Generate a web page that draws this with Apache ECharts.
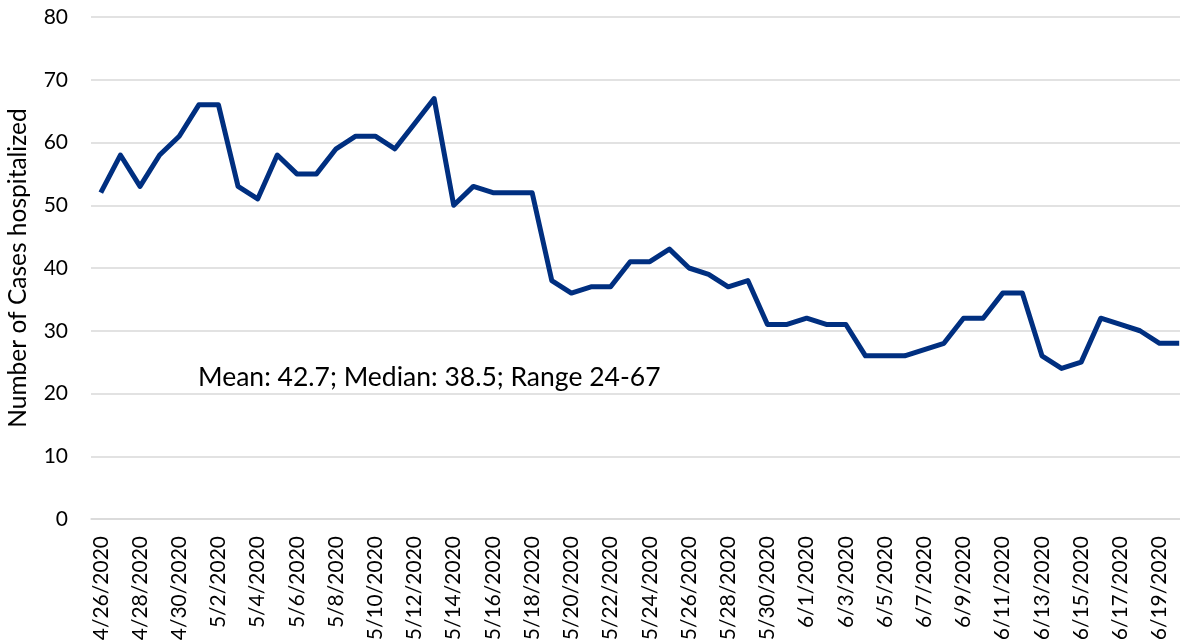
<!DOCTYPE html>
<html>
<head>
<meta charset="utf-8">
<script src="https://cdn.jsdelivr.net/npm/echarts@6/dist/echarts.min.js"></script>
<style>
  html, body { margin: 0; padding: 0; background: #fff; }
  #main { width: 1180px; height: 640px; }
</style>
</head>
<body>
<div id="main"></div>
<script>
// dates shown on the x axis
var dates = [
  '4/26/2020','4/27/2020','4/28/2020','4/29/2020','4/30/2020',
  '5/1/2020','5/2/2020','5/3/2020','5/4/2020','5/5/2020','5/6/2020','5/7/2020','5/8/2020',
  '5/9/2020','5/10/2020','5/11/2020','5/12/2020','5/13/2020','5/14/2020','5/15/2020','5/16/2020',
  '5/17/2020','5/18/2020','5/19/2020','5/20/2020','5/21/2020','5/22/2020','5/23/2020','5/24/2020',
  '5/25/2020','5/26/2020','5/27/2020','5/28/2020','5/29/2020','5/30/2020','5/31/2020',
  '6/1/2020','6/2/2020','6/3/2020','6/4/2020','6/5/2020','6/6/2020','6/7/2020','6/8/2020',
  '6/9/2020','6/10/2020','6/11/2020','6/12/2020','6/13/2020','6/14/2020','6/15/2020','6/16/2020',
  '6/17/2020','6/18/2020','6/19/2020','6/20/2020'
];

// cases hospitalized per day
var hospitalized = [
  52, 58, 53, 58, 61,
  66, 66, 53, 51, 58, 55, 55, 59,
  61, 61, 59, 63, 67, 50, 53, 52,
  52, 52, 38, 36, 37, 37, 41, 41,
  43, 40, 39, 37, 38, 31, 31,
  32, 31, 31, 26, 26, 26, 27, 28,
  32, 32, 36, 36, 26, 24, 25, 32,
  31, 30, 28, 28
];

var yTitle = 'Number of Cases hospitalized';
var note = 'Mean: 42.7; Median: 38.5; Range 24-67';

var font = 'Lato, "Open Sans", sans-serif';
var myChart = echarts.init(document.getElementById('main'));

var option = {
  animation: false,
  grid: { left: 91, top: 17, bottom: 121, width: 1098, outerBoundsMode: 'none', containLabel: false },
  xAxis: {
    type: 'category',
    data: dates,
    boundaryGap: true,
    axisLine: { lineStyle: { color: '#d9d9d9', width: 1.5 } },
    axisTick: { interval: 1, length: 6, lineStyle: { color: '#d9d9d9', width: 1.5 } },
    axisLabel: {
      interval: 1,
      rotate: 90,
      margin: 17,
      color: '#000',
      fontSize: 21,
      fontFamily: font
    }
  },
  yAxis: {
    type: 'value',
    min: 0,
    max: 80,
    interval: 10,
    name: yTitle,
    nameLocation: 'middle',
    nameGap: 60,
    nameTextStyle: { color: '#000', fontSize: 24.5, fontFamily: font },
    axisLine: { show: false },
    axisTick: { show: false },
    axisLabel: { color: '#000', fontSize: 21, fontFamily: font, margin: 23 },
    splitLine: { lineStyle: { color: '#d9d9d9', width: 1.5 } }
  },
  graphic: [{
    type: 'text',
    left: 198,
    top: 364,
    style: { text: note, fill: '#000', fontSize: 26.5, fontFamily: font }
  }],
  series: [{
    type: 'line',
    data: hospitalized,
    symbol: 'none',
    lineStyle: { color: '#002f80', width: 5, join: 'round' }
  }]
};
myChart.setOption(option);
</script>
</body>
</html>
